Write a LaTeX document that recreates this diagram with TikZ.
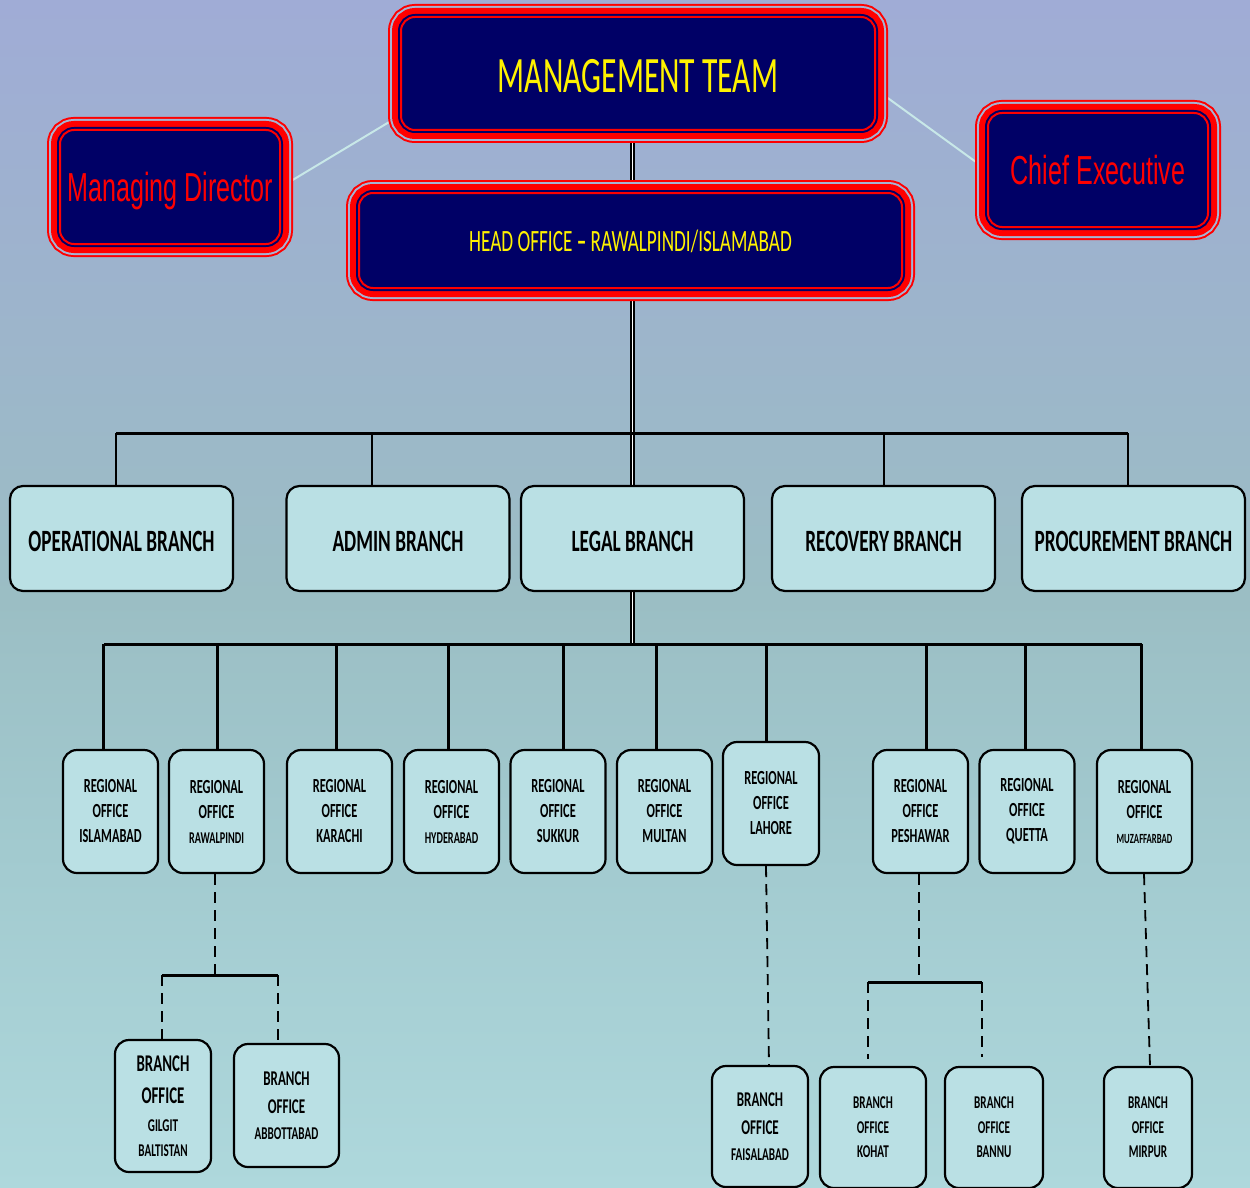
\documentclass[tikz,border=0pt]{standalone}
\usepackage{fontspec}
\newfontfamily\carl[FakeStretch=0.62]{Carlito}
\newfontfamily\arialn[FakeStretch=0.62]{Liberation Sans}
\newcommand\myfs[2]{\fontsize{#1}{#2}\selectfont}
\pgfdeclarelayer{back}
\pgfdeclarelayer{conn}
\pgfsetlayers{back,conn,main}
\definecolor{navy}{RGB}{0,0,102}
\definecolor{boxfill}{RGB}{186,224,228}
\definecolor{gapc}{RGB}{165,180,212}
\definecolor{bga}{RGB}{160,172,214}
\definecolor{bgb}{RGB}{157,180,204}
\definecolor{bgc}{RGB}{155,190,196}
\definecolor{bgd}{RGB}{162,202,207}
\definecolor{bge}{RGB}{174,216,220}
\definecolor{linkc}{RGB}{200,232,232}
\pgfdeclareverticalshading{bgshade}{100bp}{color(0bp)=(bge); color(25bp)=(bge); color(39.23bp)=(bgd); color(49.75bp)=(bgc); color(62.37bp)=(bgb); color(75bp)=(bga); color(100bp)=(bga)}
\tikzset{
 fancy/.style={rectangle, rounded corners=14pt, inner sep=0pt, fill=navy, draw=red, line width=2pt,
   preaction={draw=red, line width=26pt},
   preaction={draw=gapc, line width=22pt},
   preaction={draw=red, line width=18pt},
   preaction={draw=navy, line width=6pt}, text depth=0pt},
 branchbox/.style={rectangle, rounded corners=13pt, draw=black, line width=2.2pt, fill=boxfill,
   inner sep=0pt, align=center, text=black, font=\carl\bfseries\myfs{31}{36},
   minimum width=223pt, minimum height=105pt, text height=26pt, text depth=0pt},
 rbox/.style={rectangle, rounded corners=14pt, draw=black, line width=2.2pt, fill=boxfill,
   inner sep=0pt, align=center, text=black, font=\carl\bfseries\myfs{20}{25},
   minimum height=123pt, minimum width=95pt},
 bbox/.style={rbox, font=\carl\bfseries\myfs{18}{25}},
 link/.style={draw=linkc, line width=2pt},
 spine/.style={draw=black, line width=1.5pt, double=white, double distance=1.2pt},
 bus/.style={draw=black, line width=3pt},
 drop/.style={draw=black, line width=2pt},
 rdrop/.style={draw=black, line width=3pt},
 dsh/.style={draw=black, line width=1.8pt, dash pattern=on 11pt off 7pt},
}
\begin{document}
\begin{tikzpicture}[x=1pt,y=-1pt]
\useasboundingbox (0,0) rectangle (1250,1188);
\begin{pgfonlayer}{back}
\shade[shading=bgshade] (0,0) rectangle (1250,1188);
\end{pgfonlayer}

% top boxes
\node[fancy, minimum width=474pt, minimum height=113pt, text=yellow, font=\carl\myfs{51}{60}, text height=38pt] (MT) at (638,73.5) {MANAGEMENT TEAM};
\node[fancy, minimum width=220pt, minimum height=114pt, text=red, font=\arialn\myfs{40.5}{48}] (MD) at (170,187) {Managing Director};
\node[fancy, minimum width=220pt, minimum height=114pt, text=red, font=\arialn\myfs{40.5}{48}] (CE) at (1098,170) {Chief Executive};
\node[fancy, minimum width=543pt, minimum height=95pt, text=yellow, font=\carl\myfs{31}{36}, text height=22pt] (HO) at (630.5,240.5) {HEAD OFFICE {\bfseries –} RAWALPINDI/ISLAMABAD};

% branch row
\node[branchbox] (OB) at (121.5,538.5) {OPERATIONAL BRANCH};
\node[branchbox] (AB) at (398,538.5) {ADMIN BRANCH};
\node[branchbox] (LB) at (632.5,538.5) {LEGAL BRANCH};
\node[branchbox] (RB) at (883.5,538.5) {RECOVERY BRANCH};
\node[branchbox] (PB) at (1133.5,538.5) {PROCUREMENT BRANCH};

% regional offices
\node[rbox] (R1) at (110.5,811.5) {REGIONAL\\OFFICE\\ISLAMABAD};
\node[rbox] (R2) at (216.5,811.5) {REGIONAL\\OFFICE\\{\myfs{16.5}{25}RAWALPINDI}};
\node[rbox, minimum width=105pt] (R3) at (339.5,811.5) {REGIONAL\\OFFICE\\KARACHI};
\node[rbox] (R4) at (451.5,811.5) {REGIONAL\\OFFICE\\{\myfs{16.5}{25}HYDERABAD}};
\node[rbox] (R5) at (558,811.5) {REGIONAL\\OFFICE\\SUKKUR};
\node[rbox] (R6) at (664.5,811.5) {REGIONAL\\OFFICE\\MULTAN};
\node[rbox, minimum width=96pt] (R7) at (771,803.5) {REGIONAL\\OFFICE\\LAHORE};
\node[rbox] (R8) at (920.5,811.5) {REGIONAL\\OFFICE\\PESHAWAR};
\node[rbox] (R9) at (1027,811.5) {REGIONAL\\OFFICE\\QUETTA};
\node[rbox] (R10) at (1144.5,811.5) {REGIONAL\\OFFICE\\{\myfs{14}{25}MUZAFFARBAD}};

% branch offices
\node[bbox, minimum width=96pt, minimum height=132pt] (G1) at (163,1106)
  {{\myfs{24}{25}BRANCH}\\[7pt]{\myfs{24}{25}OFFICE}\\[3pt]GILGIT\\BALTISTAN};
\node[bbox, minimum width=105pt, minimum height=123pt, font=\carl\bfseries\myfs{18}{26}] (G2) at (286.5,1105.5)
  {{\myfs{21}{26}BRANCH}\\[2pt]{\myfs{21}{26}OFFICE}\\ABBOTTABAD};
\node[bbox, minimum width=96pt, minimum height=121pt, font=\carl\bfseries\myfs{18}{26}] (F1) at (760,1126.5)
  {{\myfs{21}{26}BRANCH}\\[2pt]{\myfs{21}{26}OFFICE}\\FAISALABAD};
\node[bbox, minimum width=106pt, minimum height=121pt, font=\carl\bfseries\myfs{18}{24.5}] (K1) at (873,1127.5)
  {BRANCH\\OFFICE\\KOHAT};
\node[bbox, minimum width=98pt, minimum height=121pt, font=\carl\bfseries\myfs{18}{24.5}] (K2) at (994,1127.5)
  {BRANCH\\OFFICE\\BANNU};
\node[bbox, minimum width=88pt, minimum height=121pt, font=\carl\bfseries\myfs{18}{24.5}] (M1) at (1148,1127.5)
  {BRANCH\\OFFICE\\MIRPUR};

% coordinates
\coordinate (b1L) at (116,433);
\coordinate (b1R) at (1128,433);
\coordinate (b2L) at (104,644);
\coordinate (b2R) at (1142,644);
\coordinate (bar1L) at (162,975);
\coordinate (bar1R) at (278,975);
\coordinate (bar2L) at (868,982);
\coordinate (bar2R) at (982,982);

\begin{pgfonlayer}{conn}
\draw[link] (MD.east) -- ([yshift=-42pt]MT.west);
\draw[link] ([yshift=-16pt]MT.east) -- (CE.west);
\draw[spine] (MT.south -| LB.north) -- (HO.north -| LB.north);
\draw[spine] (HO.south -| LB.north) -- (LB.north);
\draw[spine] (LB.south) -- (LB.south |- b2L);
\draw[bus] (b1L) -- (b1R);
\draw[drop] (b1L) -- (b1L |- OB.north);
\draw[drop] (b1L -| 372,0) -- (AB.north -| 372,0);
\draw[drop] (b1L -| RB.north) -- (RB.north);
\draw[drop] (b1R) -- (b1R |- PB.north);
\draw[bus] (b2L) -- (b2R);
\draw[rdrop] (b2L -| 103,0) -- (R1.north -| 103,0);
\draw[rdrop] (b2L -| 217,0) -- (R2.north -| 217,0);
\draw[rdrop] (b2L -| 336,0) -- (R3.north -| 336,0);
\draw[rdrop] (b2L -| 448,0) -- (R4.north -| 448,0);
\draw[rdrop] (b2L -| 563,0) -- (R5.north -| 563,0);
\draw[rdrop] (b2L -| 656,0) -- (R6.north -| 656,0);
\draw[rdrop] (b2L -| 766,0) -- (R7.north -| 766,0);
\draw[rdrop] (b2L -| 926,0) -- (R8.north -| 926,0);
\draw[rdrop] (b2L -| 1025,0) -- (R9.north -| 1025,0);
\draw[rdrop] (b2L -| 1141,0) -- (R10.north -| 1141,0);
% dashed sub-branches
\draw[dsh] ([xshift=-1.5pt]R2.south) -- ([xshift=-1.5pt]R2.south |- bar1L);
\draw[bus] (bar1L) -- (bar1R);
\draw[dsh] (bar1L) -- (bar1L |- G1.north);
\draw[dsh] (bar1R) -- (bar1R |- G2.north);
\draw[dsh] ([xshift=-5pt]R7.south) -- ([xshift=9pt]F1.north);
\draw[dsh] ([xshift=-1.5pt]R8.south) -- ([xshift=-1.5pt]R8.south |- bar2L);
\draw[bus] (bar2L) -- (bar2R);
\draw[dsh, shorten >=7pt] (bar2L) -- (bar2L |- K1.north);
\draw[dsh, shorten >=9pt] (bar2R) -- (bar2R |- K2.north);
\draw[dsh] ([xshift=-0.5pt]R10.south) -- ([xshift=2pt]M1.north);
\end{pgfonlayer}
\end{tikzpicture}
\end{document}
